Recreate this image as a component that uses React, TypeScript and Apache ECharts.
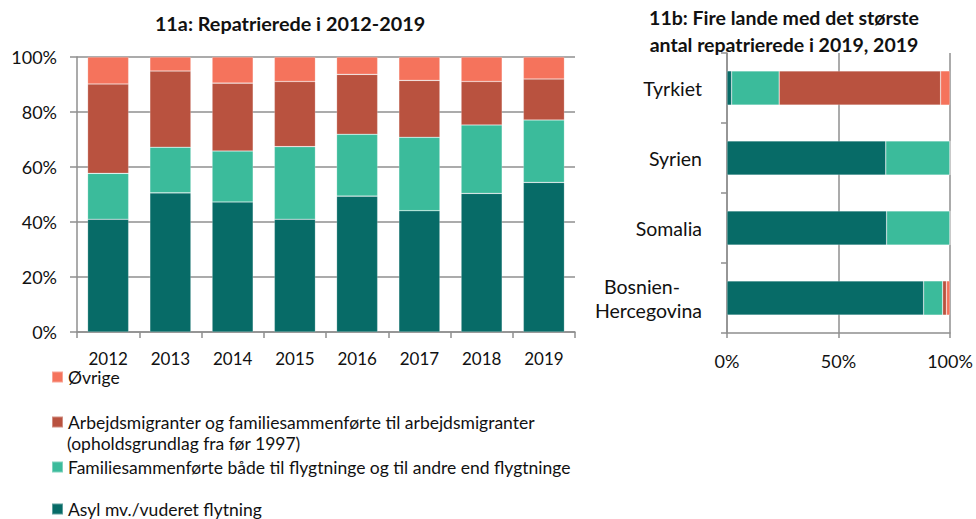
import React, { useEffect, useRef } from "react";
import * as echarts from "echarts";

const years = ["2012", "2013", "2014", "2015", "2016", "2017", "2018", "2019"];
const asylYears = [41.0, 50.6, 47.3, 41.0, 49.4, 44.1, 50.4, 54.4];
const famYears = [16.7, 16.6, 18.5, 26.4, 22.5, 26.7, 24.9, 22.7];
const arbYears = [32.5, 27.7, 24.7, 23.7, 21.8, 20.7, 15.8, 14.9];
const ovrYears = [9.8, 5.1, 9.5, 8.9, 6.3, 8.5, 8.9, 8.0];

const countries = ["Tyrkiet", "Syrien", "Somalia", "Bosnien-Hercegovina"];
const asylCountries = [2.1, 71.2, 71.6, 88.2];
const famCountries = [21.3, 28.8, 28.4, 8.5];
const arbCountries = [72.4, 0, 0, 1.7];
const ovrCountries = [4.2, 0, 0, 1.6];

const seriesNames = [
  "Asyl mv./vuderet flytning",
  "Familiesammenførte både til flygtninge og til andre end flygtninge",
  "Arbejdsmigranter og familiesammenførte til arbejdsmigranter",
  "Øvrige",
];
const arbSecondLine = "(opholdsgrundlag fra før 1997)";
const colors = ["#076B67", "#3BBB9B", "#B9523F", "#F5735C"];

const FONT = "Lato";
const TEXT = "#111";
const AXIS = "#8f8f8f";

export default function App() {
  const ref = useRef<HTMLDivElement>(null);
  useEffect(() => {
    if (!ref.current) return;
    const chart = echarts.init(ref.current, null, { renderer: "svg" });
    const yearData = [asylYears, famYears, arbYears, ovrYears];
    const countryData = [asylCountries, famCountries, arbCountries, ovrCountries];
    const series: any[] = [];
    seriesNames.forEach((name, i) => {
      series.push({
        name,
        type: "bar",
        stack: "a",
        xAxisIndex: 0,
        yAxisIndex: 0,
        barCategoryGap: "34%",
        itemStyle: { color: colors[i], borderColor: "rgba(255,255,255,0.35)", borderWidth: 0.6 },
        data: yearData[i],
      });
    });
    seriesNames.forEach((name, i) => {
      series.push({
        name,
        type: "bar",
        stack: "b",
        xAxisIndex: 1,
        yAxisIndex: 1,
        barCategoryGap: "51%",
        itemStyle: { color: colors[i], borderColor: "rgba(255,255,255,0.35)", borderWidth: 0.6 },
        data: countryData[i],
      });
    });

    const legendOrder = [seriesNames[3], seriesNames[2], seriesNames[1], seriesNames[0]];
    const legendTops = [368, 413, 458, 500];
    const legends = legendOrder.map((name, i) => ({
      orient: "vertical",
      left: 51,
      top: legendTops[i],
      padding: 0,
      itemWidth: 11,
      itemHeight: 11,
      icon: "rect",
      selectedMode: false,
      data: [name],
      textStyle: { fontFamily: FONT, fontSize: 17.5, lineHeight: 18, color: TEXT },
    }));

    chart.setOption({
      animation: false,
      textStyle: { fontFamily: FONT, color: TEXT },
      title: [
        {
          text: "11a: Repatrierede i 2012-2019",
          left: 290,
          top: 13,
          padding: 0,
          textAlign: "center",
          textStyle: { fontFamily: FONT, fontSize: 19.8, fontWeight: "bold", color: TEXT },
        },
        {
          text: "11b: Fire lande med det største\nantal repatrierede i 2019, 2019",
          left: 784,
          top: 4,
          padding: 0,
          textAlign: "center",
          textStyle: { fontFamily: FONT, fontSize: 19.5, fontWeight: "bold", color: TEXT, lineHeight: 27 },
        },
      ],
      legend: legends,
      graphic: [
        {
          type: "text",
          left: 67,
          top: 434,
          style: { text: arbSecondLine, font: `17.5px ${FONT}`, fill: TEXT },
        },
      ],
      grid: [
        { left: 77, top: 57, width: 498, height: 275 },
        { left: 727, top: 53, width: 223, height: 280 },
      ],
      xAxis: [
        {
          type: "category",
          gridIndex: 0,
          data: years,
          axisLine: { lineStyle: { color: AXIS, width: 1.5 } },
          axisTick: { show: true, length: 6, lineStyle: { color: AXIS, width: 1.5 } },
          axisLabel: { fontFamily: FONT, fontSize: 17, color: TEXT, margin: 18 },
        },
        {
          type: "value",
          gridIndex: 1,
          min: 0,
          max: 100,
          interval: 50,
          axisLine: { show: true, lineStyle: { color: AXIS, width: 1.5 } },
          axisTick: { show: true, length: 5, lineStyle: { color: AXIS, width: 1.5 } },
          splitLine: { show: true, lineStyle: { color: AXIS, width: 1.5 } },
          axisLabel: { fontFamily: FONT, fontSize: 18, color: TEXT, margin: 19, formatter: "{value}%" },
        },
      ],
      yAxis: [
        {
          type: "value",
          gridIndex: 0,
          min: 0,
          max: 100,
          interval: 20,
          axisLine: { show: true, lineStyle: { color: AXIS, width: 1.5 } },
          axisTick: { show: true, length: 7, lineStyle: { color: AXIS, width: 1.5 } },
          splitLine: { show: true, lineStyle: { color: AXIS, width: 1.5 } },
          axisLabel: { fontFamily: FONT, fontSize: 18, color: TEXT, margin: 20, formatter: "{value}%" },
        },
        {
          type: "category",
          gridIndex: 1,
          inverse: true,
          data: countries,
          axisLine: { show: true, lineStyle: { color: AXIS, width: 1.5 } },
          axisTick: { show: true, length: 6, lineStyle: { color: AXIS, width: 1.5 } },
          axisLabel: {
            fontFamily: FONT,
            fontSize: 19.5,
            color: TEXT,
            margin: 25,
            lineHeight: 24,
            formatter: (v: string) => {
              const idx = v.indexOf("-");
              if (idx > 0) {
                return `{a|${v.slice(0, idx + 1)}}\n{b|${v.slice(idx + 1)}}`;
              }
              return v;
            },
            rich: {
              a: { fontFamily: FONT, fontSize: 19.5, color: TEXT, lineHeight: 24, padding: [0, 22, 0, 0] },
              b: { fontFamily: FONT, fontSize: 19.5, color: TEXT, lineHeight: 24 },
            },
          },
        },
      ],
      series,
    });
    return () => chart.dispose();
  }, []);
  return (
    <div
      ref={ref}
      style={{ position: "fixed", left: 0, top: 0, width: 976, height: 519, background: "#fff" }}
    />
  );
}
